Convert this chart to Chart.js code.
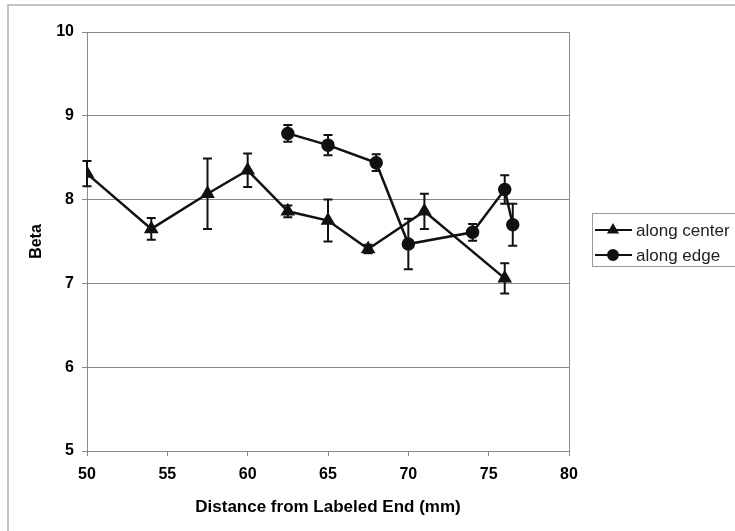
<!DOCTYPE html>
<html>
<head>
<meta charset="utf-8">
<script src="https://cdn.jsdelivr.net/npm/chart.js@4"></script>
<style>
body{margin:0;background:#fff}
</style>
</head>
<body>
<canvas id="myChart" width="735" height="531"></canvas>
<script>
// data
const centerX=[50,54,57.5,60,62.5,65,67.5,71,76]
const centerY=[8.31,7.65,8.07,8.35,7.86,7.75,7.41,7.86,7.06]
const centerErr=[0.15,0.13,0.42,0.2,0.07,0.25,0.05,0.21,0.18]
const edgeX=[62.5,65,68,70,74,76,76.5]
const edgeY=[8.79,8.65,8.44,7.47,7.61,8.12,7.7]
const edgeErr=[0.1,0.12,0.1,0.3,0.1,0.17,0.25]
const xTicks=[50,55,60,65,70,75,80]
const yTicks=[5,6,7,8,9,10]
const seriesNames=['along center','along edge']
const errors=[centerErr,edgeErr]

const fontFam="'Liberation Sans', Arial, sans-serif"
const axisGrey='#8a8a8a'

const toPoints=(xs,ys)=>xs.map((x,i)=>({x:x,y:ys[i]}))

// outer frame (only top + left edges show in the picture)
const framePlugin={
  id:'frame',
  beforeDraw(chart){
    const ctx=chart.ctx
    ctx.save()
    ctx.fillStyle='#fff'
    ctx.fillRect(0,0,chart.width,chart.height)
    ctx.strokeStyle='#c4c4c4'
    ctx.lineWidth=2
    ctx.beginPath()
    ctx.moveTo(8,chart.height)
    ctx.lineTo(8,5)
    ctx.lineTo(chart.width,5)
    ctx.stroke()
    ctx.restore()
  },
  afterDraw(chart){
    const a=chart.chartArea, ctx=chart.ctx
    ctx.save()
    ctx.strokeStyle=axisGrey
    ctx.lineWidth=1
    ctx.beginPath()
    ctx.moveTo(a.right+0.5,a.top)
    ctx.lineTo(a.right+0.5,a.bottom)
    ctx.stroke()
    ctx.restore()
  }
}

// vertical error bars, placed through the scales
const errorBarPlugin={
  id:'errorBars',
  afterDatasetsDraw(chart){
    const ctx=chart.ctx
    const xs=chart.scales.x, ys=chart.scales.y
    ctx.save()
    ctx.strokeStyle='#111'
    ctx.lineWidth=2
    chart.data.datasets.forEach((ds,d)=>{
      ds.data.forEach((p,i)=>{
        const e=errors[d][i]
        const px=xs.getPixelForValue(p.x)
        const top=ys.getPixelForValue(p.y+e)
        const bot=ys.getPixelForValue(p.y-e)
        ctx.beginPath()
        ctx.moveTo(px,top); ctx.lineTo(px,bot)
        ctx.moveTo(px-4.5,top); ctx.lineTo(px+4.5,top)
        ctx.moveTo(px-4.5,bot); ctx.lineTo(px+4.5,bot)
        ctx.stroke()
      })
    })
    ctx.restore()
  }
}

// excel style legend box with line + marker
const legendPlugin={
  id:'boxLegend',
  afterDraw(chart){
    const ctx=chart.ctx
    ctx.save()
    ctx.strokeStyle='#9a9a9a'
    ctx.lineWidth=1
    ctx.strokeRect(592.5,213.5,160,53)
    chart.data.datasets.forEach((ds,i)=>{
      const y=230+i*25
      ctx.strokeStyle='#111'
      ctx.lineWidth=2
      ctx.beginPath()
      ctx.moveTo(595,y); ctx.lineTo(632,y)
      ctx.stroke()
      ctx.fillStyle='#111'
      Chart.helpers.drawPoint(ctx,{pointStyle:ds.pointStyle,radius:5,rotation:0,borderWidth:1},613,y)
      ctx.fillStyle='#222'
      ctx.font='17px '+fontFam
      ctx.textBaseline='middle'
      ctx.fillText(ds.label,636,y+1)
    })
    ctx.restore()
  }
}

let myChart

const makeChart=()=>{
  const data={
    datasets:[{
      label:seriesNames[0],
      data:toPoints(centerX,centerY),
      showLine:true,
      borderColor:'#111',
      borderWidth:2.5,
      pointStyle:'triangle',
      pointRadius:6,
      pointBackgroundColor:'#111',
      pointBorderColor:'#111'
    },{
      label:seriesNames[1],
      data:toPoints(edgeX,edgeY),
      showLine:true,
      borderColor:'#111',
      borderWidth:2.5,
      pointStyle:'circle',
      pointRadius:5.5,
      pointBackgroundColor:'#111',
      pointBorderColor:'#111'
    }]
  }

  const config={
    type:'scatter',
    data:data,
    options:{
      responsive:false,
      animation:false,
      devicePixelRatio:1,
      layout:{padding:{left:23,top:32,right:166,bottom:11}},
      plugins:{legend:{display:false},tooltip:{enabled:false}},
      scales:{
        x:{
          type:'linear',
          min:50,max:80,
          afterBuildTicks:s=>{s.ticks=xTicks.map(v=>({value:v}))},
          afterFit:s=>{s.height=69},
          grid:{drawOnChartArea:false,drawTicks:true,tickLength:5,color:axisGrey},
          border:{color:axisGrey,width:1},
          ticks:{color:'#000',padding:9,font:{family:fontFam,size:16,weight:'bold'}},
          title:{display:true,text:'Distance from Labeled End (mm)',color:'#000',
            padding:{top:2,bottom:2},font:{family:fontFam,size:17,weight:'bold'}}
        },
        y:{
          min:5,max:10,
          afterBuildTicks:s=>{s.ticks=yTicks.map(v=>({value:v}))},
          afterFit:s=>{s.width=64},
          grid:{color:axisGrey,tickLength:5},
          border:{color:axisGrey,width:1},
          ticks:{color:'#000',padding:8,font:{family:fontFam,size:16,weight:'bold'}},
          title:{display:true,text:'Beta',color:'#000',padding:4,
            font:{family:fontFam,size:16,weight:'bold'}}
        }
      }
    },
    plugins:[framePlugin,errorBarPlugin,legendPlugin]
  }

  myChart=new Chart(document.getElementById('myChart'),config)
}

makeChart()
</script>
</body>
</html>
